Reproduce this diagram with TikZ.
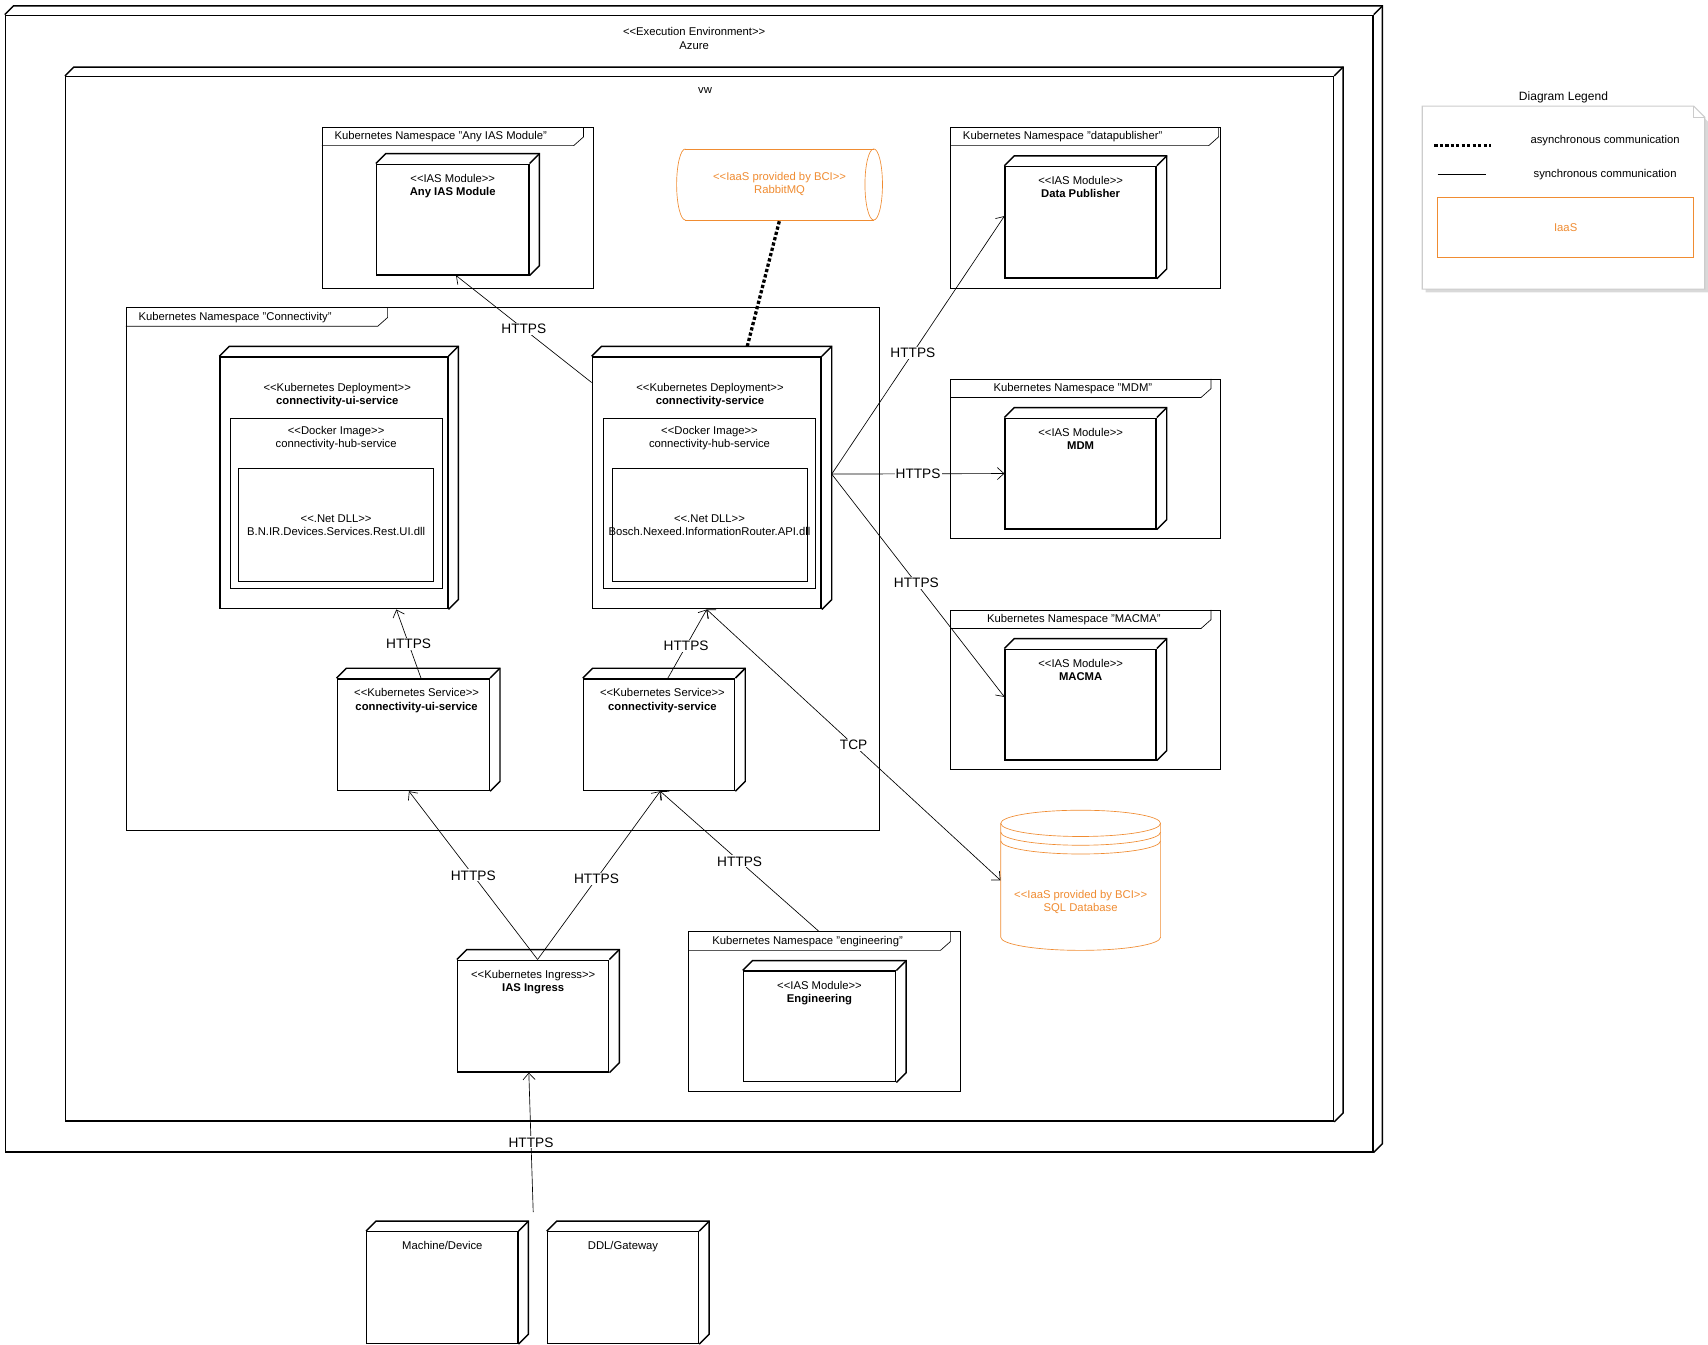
\documentclass[tikz,border=0pt]{standalone}
\usepackage{fontspec}
\setmainfont{Liberation Sans}
\usetikzlibrary{calc,fit,arrows,arrows.meta}
\definecolor{iaascolor}{RGB}{240,140,50}
\newcommand{\st}[1]{<{}<#1>{}>}
\tikzset{
  cubeline/.style={line width=1.3pt},
  thinline/.style={line width=0.6pt},
  small/.style={font=\fontsize{10.3}{12.3}\selectfont,align=center},
  conn/.style={-{Straight Barb[length=6pt,width=11pt]},line width=0.6pt},
  lbl/.style={fill=white,inner sep=1pt,font=\fontsize{12.5}{14}\selectfont},
}
% uml node: name, x1, y1, x2, y2, depth
\newcommand{\umlcube}[6]{%
  \node[draw,cubeline,fill=white,inner sep=0pt,fit={(#2,#3) (#4,#5)}] (#1) {};
  \draw[cubeline] (#1.north west) -- ++(#6,-#6) -| ([shift={(#6,-#6)}]#1.south east) -- (#1.south east);
  \draw[cubeline] (#1.north east) -- ++(#6,-#6);
}
% namespace frame: name, x1, y1, x2, y2, tab end, label
\newcommand{\nsframe}[7]{%
  \node[draw,thinline,inner sep=0pt,fit={(#2,#3) (#4,#5)}] (#1) {};
  \draw[thinline] (#2,#3+17) -- (#6-9,#3+17) -- (#6,#3+9) -- (#6,#3);
  \node[small,anchor=west] at (#2+8,#3+9) {#7};
}
\begin{document}
\begin{tikzpicture}[x=1pt,y=-1pt]
  \useasboundingbox (0,0) rectangle (1560,1228);
  % environments
  \umlcube{azure}{5}{14}{1254}{1052}{8}
  \node[small] at (634,35) {\st{Execution Environment}\\Azure};
  \umlcube{vw}{60}{70}{1218}{1024}{8}
  \node[small] at (644,83) {vw};
  %
  \nsframe{nsany}{294}{116}{542}{263}{533}{Kubernetes Namespace "Any IAS Module"}
  \nsframe{nsconn}{115}{281}{803}{758}{354}{Kubernetes Namespace "Connectivity"}
  \nsframe{nsdata}{868}{116}{1115}{263}{1113}{Kubernetes Namespace "datapublisher"}
  \nsframe{nsmdm}{868}{346}{1115}{492}{1106}{\hspace{28pt}Kubernetes Namespace "MDM"}
  \nsframe{nsmacma}{868}{557}{1115}{703}{1106}{\hspace{22pt}Kubernetes Namespace "MACMA"}
  \nsframe{nseng}{629}{851}{877}{997}{868}{\hspace{10pt}Kubernetes Namespace "engineering"}
  %
  \umlcube{anyias}{344}{150}{483}{251}{9}
  \node[small,anchor=north] at ($(anyias.north)+(0,6)$) {\st{IAS Module}\\\textbf{Any IAS Module}};
  \umlcube{datapub}{918}{152}{1056}{254}{9}
  \node[small,anchor=north] at ($(datapub.north)+(0,6)$) {\st{IAS Module}\\\textbf{Data Publisher}};
  \umlcube{mdm}{918}{382}{1056}{483}{9}
  \node[small,anchor=north] at ($(mdm.north)+(0,6)$) {\st{IAS Module}\\\textbf{MDM}};
  \umlcube{macma}{918}{593}{1056}{694}{9}
  \node[small,anchor=north] at ($(macma.north)+(0,6)$) {\st{IAS Module}\\\textbf{MACMA}};
  \umlcube{eng}{679}{887}{818}{988}{9}
  \node[small,anchor=north] at ($(eng.north)+(0,6)$) {\st{IAS Module}\\\textbf{Engineering}};
  \umlcube{ingress}{418}{877}{556}{979}{9}
  \node[small,anchor=north] at ($(ingress.north)+(0,6)$) {\st{Kubernetes Ingress}\\\textbf{IAS Ingress}};
  \umlcube{machine}{335}{1125}{473}{1227}{9}
  \node[small,anchor=north] at ($(machine.north)+(0,6)$) {Machine/Device};
  \umlcube{gateway}{500}{1125}{638}{1227}{9}
  \node[small,anchor=north] at ($(gateway.north)+(0,6)$) {DDL/Gateway};
  %
  \umlcube{uidep}{201}{326}{409}{556}{9}
  \node[small,anchor=north] at ($(uidep.north)+(3,21)$) {\st{Kubernetes Deployment}\\\textbf{connectivity-ui-service}};
  \node[draw,thinline,inner sep=0pt,fit={(210,382) (404,537)}] (uidocker) {};
  \node[small,anchor=north] at ($(uidocker.north)+(0,4)$) {\st{Docker Image}\\connectivity-hub-service};
  \node[draw,thinline,inner sep=0pt,fit={(218,428) (396,531)}] (uidll) {};
  \node[small] at (uidll.center) {\st{.Net DLL}\\B.N.IR.Devices.Services.Rest.UI.dll};
  \umlcube{condep}{541}{326}{750}{556}{9}
  \node[small,anchor=north] at ($(condep.north)+(3,21)$) {\st{Kubernetes Deployment}\\\textbf{connectivity-service}};
  \node[draw,thinline,inner sep=0pt,fit={(551,382) (745,537)}] (condocker) {};
  \node[small,anchor=north] at ($(condocker.north)+(0,4)$) {\st{Docker Image}\\connectivity-hub-service};
  \node[draw,thinline,inner sep=0pt,fit={(559,428) (737,531)}] (condll) {};
  \node[small] at (condll.center) {\st{.Net DLL}\\Bosch.Nexeed.InformationRouter.API.dll};
  %
  \umlcube{uisvc}{308}{620}{447}{722}{9}
  \node[small,anchor=north] at ($(uisvc.north)+(3,6)$) {\st{Kubernetes Service}\\\textbf{connectivity-ui-service}};
  \umlcube{consvc}{533}{620}{671}{722}{9}
  \node[small,anchor=north] at ($(consvc.north)+(3,6)$) {\st{Kubernetes Service}\\\textbf{connectivity-service}};
  %
  % iaas
  \node[inner sep=0pt,fit={(618,136) (806,201)}] (rabbit) {};
  \draw[iaascolor,thinline] (626,136) -- (798,136) (626,201) -- (798,201);
  \draw[iaascolor,thinline] (626,136) arc(270:90:8 and 32.5);
  \draw[iaascolor,thinline] (798,168.5) ellipse (8 and 32.5);
  \node[small,text=iaascolor] at (712,168) {\st{IaaS provided by BCI}\\RabbitMQ};
  \node[inner sep=0pt,fit={(914,740) (1060,868)}] (sqldb) {};
  \draw[iaascolor,thinline] (914,752) -- (914,856) arc(180:0:73 and 12) -- (1060,752);
  \draw[iaascolor,thinline] (987,752) ellipse (73 and 12);
  \draw[iaascolor,thinline] (914,760) arc(180:0:73 and 12) (914,768) arc(180:0:73 and 12);
  \node[small,text=iaascolor] at (987,824) {\st{IaaS provided by BCI}\\SQL Database};
  %
  % connectors
  \draw[conn] ([yshift=-24pt]condep.north west) -- node[lbl,pos=0.5]{HTTPS} ([xshift=3pt]anyias.south);
  \draw[line width=3pt,dash pattern=on 3pt off 2pt] ([xshift=37pt,yshift=9pt]condep.north) -- (rabbit.south);
  \draw[conn] ([xshift=9pt,yshift=8pt]condep.east) -- node[lbl,pos=0.47]{HTTPS} ([yshift=-46pt]datapub.north west);
  \draw[conn] ([xshift=9pt,yshift=8pt]condep.east) -- node[lbl,pos=0.5]{HTTPS} (mdm.west);
  \draw[conn] ([xshift=9pt,yshift=8pt]condep.east) -- node[lbl,pos=0.49]{HTTPS} ([yshift=7pt]macma.west);
  \draw[conn] ([xshift=7pt]uisvc.north) -- node[lbl,pos=0.5]{HTTPS} ([xshift=57pt]uidep.south);
  \draw[conn] ([xshift=8pt]consvc.north) -- node[lbl,pos=0.47]{HTTPS} ([xshift=0pt]condep.south);
  \draw[{Straight Barb[length=6pt,width=11pt]}-{Straight Barb[length=6pt,width=11pt]},line width=0.6pt] (condep.south) -- node[lbl,pos=0.5]{TCP} (sqldb.west);
  \draw[conn] ([xshift=4pt]ingress.north) -- node[lbl,pos=0.5]{HTTPS} ([xshift=-4pt]uisvc.south);
  \draw[conn] ([xshift=4pt]ingress.north) -- node[lbl,pos=0.48]{HTTPS} ([xshift=1pt]consvc.south);
  \draw[conn] ([xshift=-5pt]nseng.north) -- node[lbl,pos=0.5]{HTTPS} ([xshift=1pt]consvc.south);
  \coordinate (devin) at (487,1107);
  \draw[conn] (devin) -- node[lbl,pos=0.5]{HTTPS} ([xshift=-4pt]ingress.south);
  %
  % legend
  \node[small,font=\fontsize{11}{13}\selectfont] (legtitle) at (1428,89) {Diagram Legend};
  \fill[gray!30] (1302,100) -- (1549,100) -- (1560,111) -- (1560,267) -- (1302,267) -- cycle;
  \draw[gray!40,fill=white,line width=1pt] (1299,97) -- (1547,97) -- (1557,107) -- (1557,264) -- (1299,264) -- cycle;
  \draw[gray!40,line width=1pt] (1547,97) -- (1547,107) -- (1557,107);
  \coordinate (asyA) at (1310,133); \coordinate (asyB) at (1362,133);
  \draw[line width=3pt,dash pattern=on 3pt off 2pt] (asyA) -- (asyB);
  \node[small] at (1466,128) {asynchronous communication};
  \coordinate (synA) at (1313,159); \coordinate (synB) at (1357,159);
  \draw[thinline] (synA) -- (synB);
  \node[small] at (1466,159) {synchronous communication};
  \node[draw=iaascolor,thinline,inner sep=0pt,fit={(1313,180) (1547,235)}] (legiaas) {};
  \node[small,text=iaascolor] at (legiaas.center) {IaaS};
\end{tikzpicture}
\end{document}
